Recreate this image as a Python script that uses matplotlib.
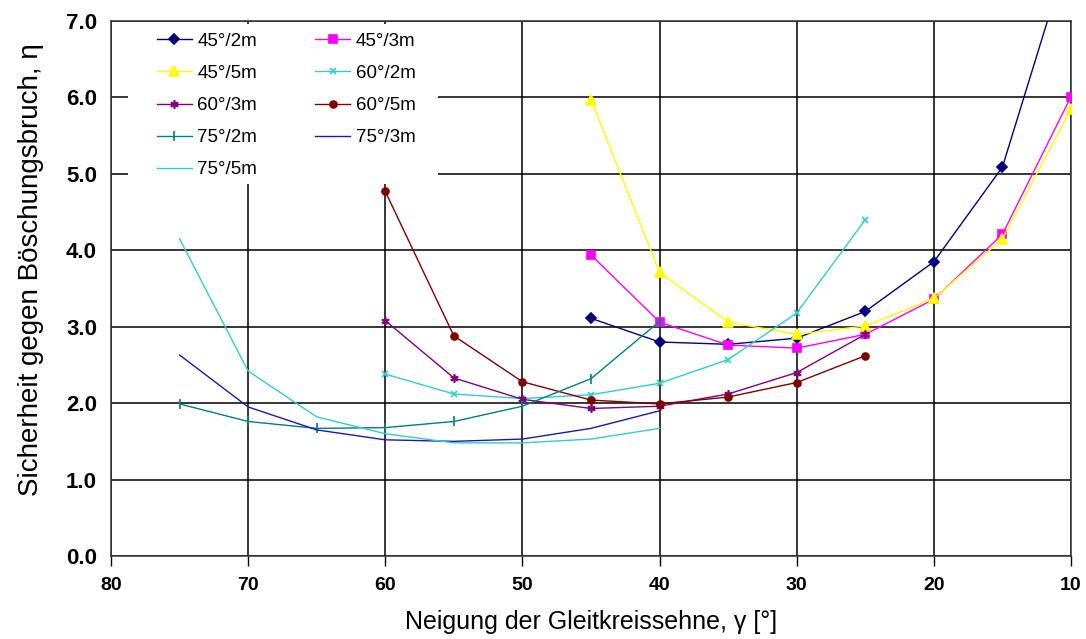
import matplotlib
matplotlib.use("Agg")
import matplotlib.pyplot as plt
from matplotlib.patches import Rectangle
from matplotlib.ticker import FormatStrFormatter

plt.rcParams['font.family'] = ['Liberation Sans', 'DejaVu Sans']

# === Data: slope angle / height combinations ===
labels = ["45°/2m", "45°/3m", "45°/5m", "60°/2m", "60°/3m",
          "60°/5m", "75°/2m", "75°/3m", "75°/5m"]

gamma_45 = [45, 40, 35, 30, 25, 20, 15, 10]
gamma_60 = [60, 55, 50, 45, 40, 35, 30, 25]
gamma_75 = [75, 70, 65, 60, 55, 50, 45, 40]

eta_45_2 = [3.11, 2.80, 2.77, 2.85, 3.20, 3.85, 5.09, 8.0]
eta_45_3 = [3.94, 3.06, 2.76, 2.72, 2.90, 3.36, 4.21, 6.01]
eta_45_5 = [5.97, 3.71, 3.06, 2.90, 3.01, 3.37, 4.15, 5.85]
eta_60_2 = [2.38, 2.12, 2.06, 2.11, 2.26, 2.57, 3.18, 4.40]
eta_60_3 = [3.08, 2.33, 2.05, 1.93, 1.96, 2.12, 2.40, 2.90]
eta_60_5 = [4.77, 2.88, 2.28, 2.04, 1.99, 2.08, 2.27, 2.62]
eta_75_2 = [1.99, 1.76, 1.67, 1.68, 1.76, 1.96, 2.32, 3.07]
eta_75_3 = [2.63, 1.95, 1.65, 1.52, 1.50, 1.53, 1.67, 1.90]
eta_75_5 = [4.15, 2.42, 1.82, 1.60, 1.48, 1.48, 1.53, 1.67]

xs = [gamma_45, gamma_45, gamma_45, gamma_60, gamma_60,
      gamma_60, gamma_75, gamma_75, gamma_75]
ys = [eta_45_2, eta_45_3, eta_45_5, eta_60_2, eta_60_3,
      eta_60_5, eta_75_2, eta_75_3, eta_75_5]

colors = ["#000080", "#FF00FF", "#FFFF00", "#33CCCC", "#800080",
          "#800000", "#008080", "#1A1AB0", "#33CCCC"]
markers = ["D", "s", "^", "x", (6, 2, 0), "o", "|", None, None]
msizes = [5, 6, 7, 5, 6, 5, 7, 0, 0]

# === Plotting ===
fig = plt.figure(figsize=(10.86, 6.39), dpi=100)
ax = fig.add_axes([0.1022, 0.1299, 0.8840, 0.8372])

lines = []
for x, y, lab, c, m, ms in zip(xs, ys, labels, colors, markers, msizes):
    ln, = ax.plot(x, y, color=c, marker=m, markersize=ms, linewidth=1.0,
                  label=lab, markeredgewidth=1.2, zorder=6)
    lines.append(ln)

ax.set_xlim(80, 10)
ax.set_ylim(0, 7)
ax.set_xticks(range(80, 9, -10))
ax.set_yticks(range(0, 8))
ax.yaxis.set_major_formatter(FormatStrFormatter("%.1f"))
ax.grid(True, color="black", linewidth=1.1, zorder=1)
ax.set_axisbelow(True)

for s in ax.spines.values():
    s.set_color("#333333")
    s.set_linewidth(1.1)

ax.tick_params(axis="x", direction="out", length=7, width=1, pad=8,
               labelsize=14)
ax.tick_params(axis="y", length=0, pad=10, labelsize=16)
for t in ax.get_xticklabels() + ax.get_yticklabels():
    t.set_fontweight("bold")

ax.set_xlabel("Neigung der Gleitkreissehne, γ [°]", fontsize=18, labelpad=12)
ax.set_ylabel("Sicherheit gegen Böschungsbruch, η", fontsize=20)
ax.yaxis.set_label_coords(-0.070, 0.535)

# white legend area hiding the grid in the upper left corner
ax.add_patch(Rectangle((0.0177, 0.695), 0.323, 0.300, transform=ax.transAxes,
                       facecolor="white", edgecolor="none", zorder=4))

# legend filled row by row: left column first, then right column
order = [0, 2, 4, 6, 8, 1, 3, 5, 7]
leg = ax.legend([lines[i] for i in order], [labels[i] for i in order],
                ncol=2, loc="upper left", bbox_to_anchor=(0.048, 0.978),
                fontsize=13.5, frameon=False, borderpad=0,
                handlelength=1.85, handletextpad=0.3, columnspacing=3.1,
                labelspacing=0.8, borderaxespad=0)
leg.set_zorder(5)

fig.savefig("out.png", dpi=100)
